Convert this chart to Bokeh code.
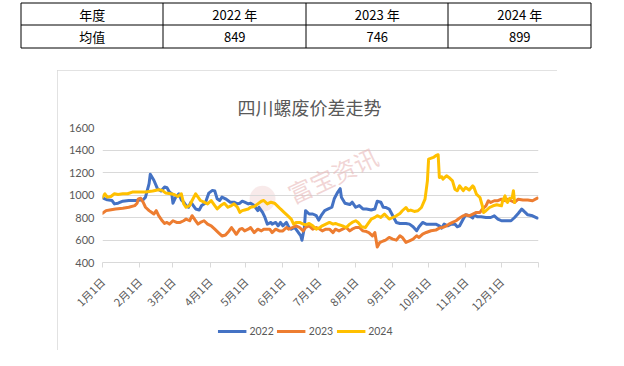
import math
from bokeh.plotting import figure
from bokeh.models import Range1d, FixedTicker, Legend, LegendItem, Label
from bokeh.core.properties import value
from bokeh.embed import file_html
from bokeh.resources import INLINE

# ---------------- data ----------------
table_header = ["年度", "2022 年", "2023 年", "2024 年"]
table_row_label = "均值"
table_means = [849, 746, 899]

chart_title = "四川螺废价差走势"
month_labels = ["1月1日", "2月1日", "3月1日", "4月1日", "5月1日", "6月1日",
                "7月1日", "8月1日", "9月1日", "10月1日", "11月1日", "12月1日"]
month_start_days = [0, 31, 59, 90, 120, 151, 181, 212, 243, 273, 304, 334]
year_end_day = 365
y_ticks = [400, 600, 800, 1000, 1200, 1400, 1600]
series_names = ["2022", "2023", "2024"]

# day of year (0 = 1月1日) and price spread
days_2022 = [0, 4, 8, 10, 13, 17, 22, 28, 34, 36, 39, 40, 43, 46, 49, 52, 54, 56, 58, 59,
             61, 64, 66, 68, 70, 72, 74, 76, 78, 81, 83, 86, 89, 92, 94, 96, 98, 100, 103, 105,
             107, 110, 113, 115, 117,
             119, 122, 124, 127, 130, 131, 134, 136, 138, 141, 142, 145, 147, 149, 151, 154, 156,
             158, 161, 163, 166, 167, 169, 170, 173, 176, 179, 181, 183, 186, 189, 192, 194, 197,
             199, 200, 203, 207, 209, 212, 215, 218, 221, 225, 228, 230, 233, 235,
             237, 240, 243, 246, 249, 254, 257, 260, 263, 265, 268, 271, 275, 279, 282, 284, 286,
             289, 292, 295, 297, 299, 302, 304, 307, 310, 311, 314, 317, 321, 325, 328, 331, 334,
             338, 342, 345, 348, 351, 353, 356, 360, 364]
vals_2022 = [975, 957, 951, 921, 927, 945, 951, 951, 957, 981, 1101, 1185, 1131, 1056, 1035, 1071,
             1065, 1026, 1011, 927, 975, 1011, 957, 936, 906, 891, 936, 906, 876, 867, 906, 927,
             1017, 1041, 1035, 966, 951, 981, 966, 951, 936, 936, 921, 927, 945,
             936, 921, 927, 906, 861, 891, 846, 801, 741, 756, 741, 756, 726, 756, 726, 756, 711,
             696, 711, 681, 636, 597, 711, 861, 831, 831, 816, 777, 816, 861, 876, 891, 966, 1026,
             1056, 981, 927, 915, 936, 891, 906, 876, 876, 867, 876, 945, 936, 891,
             889, 875, 815, 756, 747, 747, 741, 718, 682, 718, 756, 741, 741, 741, 726, 706, 741,
             726, 741, 741, 718, 726, 786, 824, 815, 795, 824, 806, 806, 800, 800, 815, 786, 771,
             771, 771, 800, 836, 875, 854, 824, 815, 795]

days_2023 = [0, 3, 6, 11, 17, 22, 27, 29, 30, 32, 34, 36, 39, 41, 43, 45, 47, 50, 52, 54,
             56, 59, 62, 65, 68, 70, 73, 75, 78, 80, 82, 85, 88, 91, 94, 97, 100, 103, 106, 108,
             110, 112, 115, 117,
             119, 122, 124, 127, 130, 133, 135, 140, 142, 145, 148, 151, 154, 156, 159, 162, 165,
             168, 170, 173, 176, 179, 182, 184, 187, 190, 193, 195, 198, 201, 204, 207, 209, 212,
             215, 218, 221, 223, 226, 228, 230, 232, 235,
             237, 240, 243, 246, 249, 251, 254, 257, 260, 263, 265, 268, 271, 275, 279, 282, 285,
             288, 290, 293, 296, 299, 302, 304, 307, 310, 313, 316, 318, 321, 323, 325, 328, 331,
             334, 337, 339, 342, 345, 348, 352, 356, 360, 364]
vals_2023 = [837, 861, 867, 876, 882, 891, 906, 927, 966, 972, 936, 891, 861, 846, 831, 861, 816,
             771, 747, 756, 741, 771, 756, 756, 771, 786, 771, 816, 771, 741, 756, 771, 741, 726,
             696, 666, 636, 645, 681, 711, 681, 651, 696, 702,
             681, 696, 711, 666, 696, 681, 696, 696, 666, 696, 681, 681, 711, 696, 711, 726, 711,
             681, 711, 726, 696, 711, 696, 681, 696, 696, 666, 696, 681, 696, 711, 681, 696, 711,
             711, 681, 675, 666, 636, 666, 537, 576, 591,
             599, 623, 608, 599, 638, 623, 578, 593, 608, 638, 623, 652, 667, 682, 688, 706, 712,
             726, 741, 756, 771, 795, 815, 824, 815, 830, 845, 845, 875, 904, 949, 934, 949, 949,
             963, 949, 963, 949, 934, 963, 955, 955, 949, 972]

days_2024 = [0, 2, 4, 7, 10, 13, 17, 21, 25, 31, 36, 42, 47, 50, 53, 57, 60, 63, 66, 68,
             70, 73, 75, 78, 80, 82, 85, 88, 91, 94, 96, 99, 102, 105, 108, 110, 113, 115, 117,
             119, 122, 124, 127, 130, 133, 135, 138, 141, 144, 147, 149, 152, 155, 158, 160, 162,
             165, 168, 170, 173, 176, 179, 182, 184, 187, 190, 193, 195, 198, 201, 204, 207, 209,
             212, 214, 217, 220, 222, 225, 228, 230, 233, 236,
             240, 243, 246, 249, 251, 254, 256, 258, 261, 264, 267, 270, 272, 273, 277, 279, 281,
             282, 284, 285, 288, 290, 293, 295, 297, 299, 302, 304, 307, 310, 311, 313, 316, 318,
             319, 321, 324, 327, 330, 334, 335, 337, 338, 339, 341, 343, 344, 345]
vals_2024 = [981, 1011, 981, 987, 1011, 1005, 1011, 1011, 1026, 1026, 1026, 1035, 1047, 1041,
             1017, 1011, 1005, 987, 1011, 921, 891, 906, 951, 1011, 981, 951, 936, 921, 951, 906,
             876, 906, 927, 891, 906, 921, 891, 846, 861,
             867, 876, 891, 897, 921, 945, 951, 921, 936, 927, 897, 876, 846, 816, 786, 741, 756,
             756, 741, 735, 747, 726, 696, 711, 726, 741, 756, 741, 747, 735, 726, 711, 741, 756,
             771, 756, 717, 711, 741, 786, 801, 816, 801, 831,
             786, 800, 815, 836, 860, 889, 860, 866, 854, 860, 889, 963, 1126, 1319, 1334, 1349,
             1358, 1156, 1162, 1141, 1171, 1156, 1126, 1052, 1038, 1082, 1038, 1067, 1044, 1082,
             1067, 1008, 978, 904, 845, 860, 889, 904, 913, 904, 949, 993, 949, 934, 972, 978,
             1038, 934]

series_days = [days_2022, days_2023, days_2024]
series_vals = [vals_2022, vals_2023, vals_2024]
series_colors = ["#4472C4", "#ED7D31", "#FFC000"]

CJK = "Noto Sans CJK SC"
LAT = "Lato"
GREY_TXT = "#595959"
GRID = "#d9d9d9"

# ---------------- table ----------------
TW, TH = 608, 70
t = figure(width=TW, height=TH, x_range=Range1d(0, TW), y_range=Range1d(TH, 0),
           x_axis_type=None, y_axis_type=None, toolbar_location=None,
           output_backend="svg", min_border=0, title=None)
t.outline_line_color = None
t.background_fill_color = "white"
t.border_fill_color = "white"

left, top, col_w, row_h = 20.5, 2.5, 142.5, 22.5
ncol = len(table_header)
hy = [top + math.floor(i * row_h) for i in range(3)]
t.segment(x0=[left] * 3, y0=hy, x1=[left + math.floor(ncol * col_w)] * 3, y1=hy,
          line_color="#000000", line_width=1)
vx = [left + math.floor(i * col_w) for i in range(ncol + 1)]
t.segment(x0=vx, y0=[hy[0]] * (ncol + 1), x1=vx, y1=[hy[-1]] * (ncol + 1),
          line_color="#000000", line_width=1)

row1 = table_header
row2 = [table_row_label] + [str(v) for v in table_means]
tx = [left + (i + 0.5) * col_w for i in range(ncol)]
t.text(x=tx, y=[top + 0.5 * row_h] * ncol, text=row1, text_align="center",
       text_baseline="middle", text_font=value(CJK), text_font_size="13px",
       text_color="#000000")
t.text(x=tx, y=[top + 1.5 * row_h] * ncol, text=row2, text_align="center",
       text_baseline="middle", text_font=value(CJK), text_font_size="13px",
       text_color="#000000")

# ---------------- chart ----------------
c = figure(frame_width=436, frame_height=135, x_range=Range1d(0, year_end_day),
           y_range=Range1d(y_ticks[0], y_ticks[-1]),
           toolbar_location=None, output_backend="svg",
           min_border_left=45, min_border_right=19, min_border_top=57, min_border_bottom=88,
           styles={"margin-left": "57px", "outline": "1px solid #d9d9d9",
                   "outline-offset": "-1px"})
c.outline_line_color = None
c.background_fill_color = "white"
c.border_fill_color = "white"

c.title.text = chart_title
c.title.text_font = CJK
c.title.text_font_size = "18px"
c.title.text_font_style = "normal"
c.title.text_color = GREY_TXT
c.title.align = "left"
c.title.offset = 135
c.title.standoff = 16

c.xgrid.grid_line_color = None
c.ygrid.grid_line_color = GRID
c.yaxis.ticker = FixedTicker(ticks=y_ticks)
c.yaxis.axis_line_color = None
c.yaxis.major_tick_line_color = None
c.yaxis.major_tick_out = 0
c.yaxis.major_tick_in = 0
c.yaxis.minor_tick_line_color = None
c.yaxis.major_label_standoff = 8
c.yaxis.major_label_text_font = LAT
c.yaxis.major_label_text_font_size = "11px"
c.yaxis.major_label_text_color = GREY_TXT

x_ticks = month_start_days + [year_end_day]
c.xaxis.ticker = FixedTicker(ticks=x_ticks)
overrides = {d: lab for d, lab in zip(month_start_days, month_labels)}
overrides[year_end_day] = " "
c.xaxis.major_label_overrides = overrides
c.xaxis.major_label_orientation = math.pi / 4
c.xaxis.axis_line_color = GRID
c.xaxis.major_tick_line_color = GRID
c.xaxis.major_tick_out = 5
c.xaxis.major_tick_in = 0
c.xaxis.minor_tick_line_color = None
c.xaxis.major_label_standoff = 12
c.xaxis.major_label_text_font = CJK
c.xaxis.major_label_text_font_size = "11px"
c.xaxis.major_label_text_color = GREY_TXT

# watermark (background decoration)
wm = Label(x=192.6, y=1180, text="富宝资讯", angle=25, angle_units="deg",
           text_align="center", text_baseline="middle", text_font=CJK,
           text_font_size="24px", text_color="#e8b9b9", text_alpha=0.6, level="underlay")
c.add_layout(wm)
c.scatter(x=[134], y=[966], size=26, fill_color="#e8b9b9", fill_alpha=0.3, line_color=None,
          level="underlay")

for d, v, col in zip(series_days, series_vals, series_colors):
    c.line(d, v, line_width=3, line_color=col, line_join="round", line_cap="round")

# ---------------- legend strip (sits inside the chart box, below the axis) ----------------
# the series are re-plotted here outside the visible range so the legend gets real glyphs
lg = figure(width=190, height=20, x_range=Range1d(-10, -9), y_range=Range1d(0, 1),
            x_axis_type=None, y_axis_type=None, toolbar_location=None,
            output_backend="svg", min_border=0, title=None,
            styles={"margin-left": "210px", "margin-top": "-29px"})
lg.outline_line_color = None
lg.background_fill_alpha = 0
lg.border_fill_alpha = 0
items = []
for name, d, v, col in zip(series_names, series_days, series_vals, series_colors):
    r = lg.line(d, v, line_width=3, line_color=col)
    items.append(LegendItem(label=name, renderers=[r]))
legend = Legend(items=items, orientation="horizontal", location="center",
                label_text_font=LAT, label_text_font_size="10.5px", label_text_color=GREY_TXT,
                glyph_width=29, glyph_height=12, label_standoff=3, spacing=3,
                label_height=12, padding=2, margin=0, border_line_color=None,
                background_fill_alpha=0)
lg.add_layout(legend, "center")

open("out.html", "w").write(file_html([t, c, lg], INLINE))
